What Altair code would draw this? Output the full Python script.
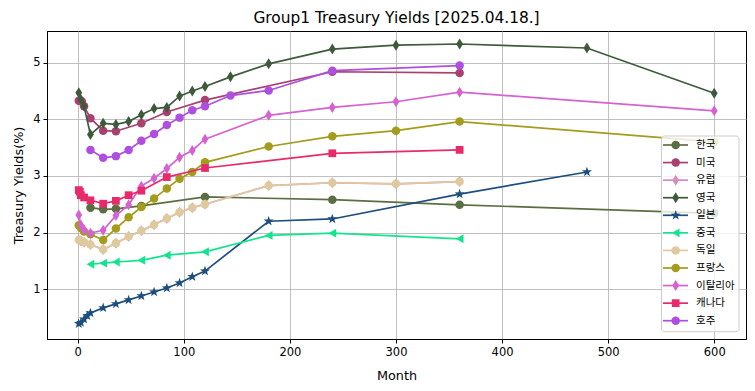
import altair as alt
import pandas as pd

countries = ["한국", "미국", "유럽", "영국", "일본", "중국", "독일", "프랑스", "이탈리아", "캐나다", "호주"]
colors = ["#5a6e41", "#a8416f", "#d98cbc", "#3e5a3b", "#1d4e7e", "#13e58e",
          "#dfcaa0", "#a39c1c", "#d562d1", "#e82a6b", "#ae4fdf"]

THIN_DIAMOND = "M0,-1L0.62,0L0,1L-0.62,0Z"
STAR = ("M0,-1L0.235,-0.324L0.951,-0.309L0.38,0.124L0.588,0.809L0,0.4"
        "L-0.588,0.809L-0.38,0.124L-0.951,-0.309L-0.235,-0.324Z")
shapes = ["circle", "circle", THIN_DIAMOND, THIN_DIAMOND, STAR, "triangle-left",
          "circle", "circle", THIN_DIAMOND, "square", "circle"]
sizes = [72, 72, 121, 121, 110, 80, 72, 72, 121, 60, 72]

kr_m = [12, 24, 36, 60, 120, 240, 360, 600]
kr_v = [2.44, 2.41, 2.42, 2.47, 2.63, 2.58, 2.49, 2.34]

us_m = [1, 2, 3, 4, 6, 12, 24, 36, 60, 84, 120, 240, 360]
us_v = [4.33, 4.33, 4.33, 4.31, 4.23, 4.02, 3.80, 3.79, 3.93, 4.13, 4.34, 4.84, 4.82]

eu_m = [1, 3, 6, 12, 24, 36, 48, 60, 72, 84, 96, 108, 120, 180, 240, 300, 360]
eu_v = [1.87, 1.85, 1.83, 1.79, 1.70, 1.81, 1.93, 2.03, 2.14, 2.25, 2.36, 2.44, 2.50, 2.83, 2.88, 2.86, 2.90]

uk_m = [1, 3, 6, 12, 24, 36, 48, 60, 72, 84, 96, 108, 120, 144, 180, 240, 300, 360, 480, 600]
uk_v = [4.47, 4.35, 4.23, 3.73, 3.93, 3.91, 3.96, 4.08, 4.19, 4.21, 4.41, 4.50, 4.58, 4.75, 4.98, 5.24, 5.31, 5.33, 5.26, 4.46]

jp_m = [1, 3, 6, 9, 12, 24, 36, 48, 60, 72, 84, 96, 108, 120, 180, 240, 360, 480]
jp_v = [0.39, 0.41, 0.47, 0.53, 0.58, 0.67, 0.74, 0.81, 0.88, 0.95, 1.02, 1.11, 1.22, 1.32, 2.20, 2.24, 2.68, 3.07]

cn_m = [12, 24, 36, 60, 84, 120, 180, 240, 360]
cn_v = [1.44, 1.46, 1.48, 1.51, 1.60, 1.66, 1.95, 1.99, 1.89]

de_m = [1, 3, 6, 12, 24, 36, 48, 60, 72, 84, 96, 108, 120, 180, 240, 300, 360]
de_v = [1.87, 1.85, 1.83, 1.79, 1.70, 1.81, 1.93, 2.03, 2.14, 2.25, 2.36, 2.44, 2.50, 2.83, 2.88, 2.86, 2.90]

fr_m = [1, 3, 6, 12, 24, 36, 48, 60, 72, 84, 96, 108, 120, 180, 240, 300, 360, 600]
fr_v = [2.13, 2.08, 2.02, 1.97, 1.87, 2.07, 2.27, 2.45, 2.60, 2.78, 2.95, 3.07, 3.24, 3.52, 3.70, 3.80, 3.96, 3.60]

it_m = [1, 3, 6, 12, 24, 36, 48, 60, 72, 84, 96, 108, 120, 180, 240, 300, 360, 600]
it_v = [2.31, 2.13, 2.05, 1.99, 2.04, 2.30, 2.49, 2.82, 2.96, 3.13, 3.33, 3.45, 3.65, 4.07, 4.21, 4.31, 4.48, 4.15]

ca_m = [1, 2, 3, 6, 12, 24, 36, 48, 60, 84, 120, 240, 360]
ca_v = [2.75, 2.72, 2.66, 2.62, 2.57, 2.51, 2.56, 2.66, 2.74, 2.98, 3.14, 3.40, 3.46]

au_m = [12, 24, 36, 48, 60, 72, 84, 96, 108, 120, 144, 180, 240, 360]
au_v = [3.46, 3.32, 3.35, 3.46, 3.62, 3.74, 3.90, 4.03, 4.16, 4.23, 4.42, 4.51, 4.86, 4.95]

months_list = [kr_m, us_m, eu_m, uk_m, jp_m, cn_m, de_m, fr_m, it_m, ca_m, au_m]
values_list = [kr_v, us_v, eu_v, uk_v, jp_v, cn_v, de_v, fr_v, it_v, ca_v, au_v]

x_ticks = [0, 100, 200, 300, 400, 500, 600]
y_ticks = [1, 2, 3, 4, 5]

rows = []
for c, ms, vs in zip(countries, months_list, values_list):
    for m, v in zip(ms, vs):
        rows.append({"country": c, "month": m, "yld": v})
df = pd.DataFrame(rows)
leg_df = pd.DataFrame({"country": countries})
box_df = pd.DataFrame({"k": [0]})

x_enc = alt.X("month:Q",
              scale=alt.Scale(domain=[-28.95, 629.95], nice=False, zero=False),
              axis=alt.Axis(values=x_ticks, title="Month", format="d"))
y_enc = alt.Y("yld:Q",
              scale=alt.Scale(domain=[0.12, 5.56], nice=False, zero=False),
              axis=alt.Axis(values=y_ticks, title="Treasury Yields(%)", format="d"))

color_enc = alt.Color("country:N", scale=alt.Scale(domain=countries, range=colors), legend=None)
shape_enc = alt.Shape("country:N", scale=alt.Scale(domain=countries, range=shapes), legend=None)

# legend layout (plot-area pixels)
leg_y = alt.Y("country:N", scale=alt.Scale(type="point", domain=countries, range=[114, 289.7], padding=0),
              axis=None)

main_layers = []
legend_layers = [
    alt.Chart(box_df).mark_rect(fill="white", fillOpacity=0.8, stroke="#cccccc",
                                strokeWidth=1, cornerRadius=3).encode(
        x=alt.value(614.5), x2=alt.value(692), y=alt.value(105), y2=alt.value(300.7))
]
for i, c in enumerate(countries):
    flt = alt.FieldEqualPredicate(field="country", equal=c)
    base = alt.Chart(df).transform_filter(flt)
    main_layers.append(base.mark_line(color=colors[i], strokeWidth=1.7).encode(x=x_enc, y=y_enc))
    main_layers.append(base.mark_point(filled=True, opacity=1, size=sizes[i]).encode(
        x=x_enc, y=y_enc, color=color_enc, shape=shape_enc))
    lbase = alt.Chart(leg_df).transform_filter(flt)
    legend_layers.append(lbase.mark_rule(color=colors[i], strokeWidth=1.7).encode(
        x=alt.value(616), x2=alt.value(641), y=leg_y))
    legend_layers.append(lbase.mark_point(filled=True, opacity=1, size=sizes[i]).encode(
        x=alt.value(628.7), y=leg_y, color=color_enc, shape=shape_enc))
legend_layers.append(alt.Chart(leg_df).mark_text(
    align="left", baseline="middle", font="Noto Sans CJK KR", fontSize=10.5, color="black").encode(
    x=alt.value(649), y=leg_y, text="country:N"))

chart = alt.layer(alt.layer(*main_layers), alt.layer(*legend_layers)).resolve_scale(
    y="independent"
).properties(
    width=699, height=308,
    title=alt.TitleParams("Group1 Treasury Yields [2025.04.18.]", fontSize=15.4,
                          font="DejaVu Sans", fontWeight="normal", anchor="middle",
                          offset=5, color="black"),
    autosize=alt.AutoSizeParams(type="none"),
    padding={"left": 39, "top": 23, "right": 1, "bottom": 44},
).configure_view(stroke="black", strokeWidth=1).configure_axis(
    domainColor="black", tickColor="black", tickSize=4, labelPadding=3,
    grid=True, gridColor="#b0b0b0", gridWidth=0.8,
    labelFont="DejaVu Sans", labelFontSize=11.5, labelColor="black",
    titleFont="DejaVu Sans", titleFontSize=12.8, titleFontWeight="normal", titleColor="black",
).configure_axisX(titlePadding=12).configure_axisY(titlePadding=7)

chart.save("out.html", embed_options={"renderer": "svg", "actions": False})
